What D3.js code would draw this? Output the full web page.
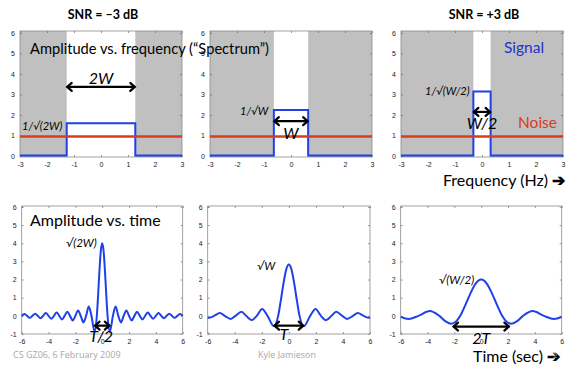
<!DOCTYPE html>
<html>
<head>
<meta charset="utf-8">
<script src="https://cdn.jsdelivr.net/npm/d3@7"></script>
<style>
  body { margin: 0; background: #fff; }
  svg { display: block; }
  .tick text { font-family: "Liberation Sans", Arial, sans-serif; font-size: 7px; fill: #222; }
</style>
</head>
<body>
<svg id="chart" width="569" height="365"></svg>
<script>
// ---- data ----
const freqTicks = [-3, -2, -1, 0, 1, 2, 3];
const freqYTicks = [0, 1, 2, 3, 4, 5, 6];
const timeTicks = [-6, -4, -2, 0, 2, 4, 6];
const timeYTicks = [-1, 0, 1, 2, 3, 4, 5, 6];

const snrTitles = ['SNR = \u20133 dB', '', 'SNR = +3 dB'];
const halfBand = [1.27, 0.635, 0.32];      // Hz, half of the signal band
const signalLevel = [1.6, 2.25, 3.15];     // spectrum height
const noiseLevel = 0.95;
const floorLevel = 0.02;

const bandLabels = ['1/\u221A(2W)', '1/\u221AW', '1/\u221A(W/2)'];
const widthLabels = ['2W', 'W', 'W/2'];
const peakLabels = ['\u221A(2W)', '\u221AW', '\u221A(W/2)'];
const durLabels = ['T/2', 'T', '2T'];

const pulse1T = [-6, -5.8, -5.6, -5.4, -5.2, -5.0, -4.8, -4.6, -4.4, -4.2, -4.0, -3.8, -3.6, -3.4, -3.2, -3.0, -2.8, -2.6, -2.4, -2.2, -2.0, -1.8, -1.6, -1.4, -1.2, -1.0, -0.8, -0.57, -0.4, -0.3, -0.2, -0.1, 0,
  0.1, 0.2, 0.3, 0.4, 0.57, 0.8, 1.0, 1.2, 1.4, 1.6, 1.8, 2.0, 2.2, 2.4, 2.6, 2.8, 3.0, 3.2, 3.4, 3.6, 3.8, 4.0, 4.2, 4.4, 4.6, 4.8, 5.0, 5.2, 5.4, 5.6, 5.8, 6];
const pulse1V = [0, 0.1, 0, -0.11, 0, 0.12, 0, -0.13, 0, 0.15, 0, -0.16, 0, 0.18, 0, -0.2, 0, 0.22, 0, -0.25, 0, 0.3, 0, -0.36, 0, 0.51, 0, -0.87, 0, 1.2, 2.55, 3.6, 4.0,
  3.6, 2.55, 1.2, 0, -0.87, 0, 0.51, 0, -0.36, 0, 0.3, 0, -0.25, 0, 0.22, 0, -0.2, 0, 0.18, 0, -0.16, 0, 0.15, 0, -0.13, 0, 0.12, 0, -0.11, 0, 0.1, 0];

const pulse2T = [-6, -5.93, -5.53, -5.1, -4.74, -4.3, -3.95, -3.5, -3.16, -2.74, -2.37, -1.97, -1.58, -1.1, -0.79, -0.6, -0.4, -0.2, 0,
  0.2, 0.4, 0.6, 0.79, 1.1, 1.58, 1.97, 2.37, 2.74, 3.16, 3.5, 3.95, 4.3, 4.74, 5.1, 5.53, 5.93, 6];
const pulse2V = [-0.1, -0.11, 0, 0.16, 0, -0.17, 0, 0.22, 0, -0.24, 0, 0.38, 0, -0.57, 0, 0.82, 1.77, 2.54, 2.83,
  2.54, 1.77, 0.82, 0, -0.57, 0, 0.38, 0, -0.24, 0, 0.22, 0, -0.17, 0, 0.16, 0, -0.11, -0.1];

const pulse3T = [-6, -5.41, -4.68, -3.84, -3.12, -2.65, -2.23, -1.9, -1.56, -1.2, -0.8, -0.4, 0,
  0.4, 0.8, 1.2, 1.56, 1.9, 2.23, 2.65, 3.12, 3.84, 4.68, 5.41, 6];
const pulse3V = [-0.06, -0.18, 0, 0.26, 0, -0.3, -0.43, -0.33, 0, 0.56, 1.24, 1.79, 2.0,
  1.79, 1.24, 0.56, 0, -0.33, -0.43, -0.3, 0, 0.26, 0, -0.18, -0.06];

const pulses = [[pulse1T, pulse1V], [pulse2T, pulse2V], [pulse3T, pulse3V]];
const durHalf = [0.57, 1.1, 2.1];          // time-span arrows
const durArrowY = [-0.54, -0.54, -0.59];

// ---- layout ----
const blue = '#1f42e8', red = '#dc3b1c', shade = '#c0c0c0';
const topX = [[20, 182], [210, 372], [401, 563]];
const botX = [[21.7, 182.7], [207.7, 370], [400.7, 561.7]];
const svg = d3.select('#chart');
const bigFont = 'Lato, "Open Sans", sans-serif';
const plain = d => String(d);

function arrow(g, x1, x2, y) {
  g.append('line').attr('x1', x1).attr('x2', x2).attr('y1', y).attr('y2', y)
    .attr('stroke', '#000').attr('stroke-width', 2.2);
  g.append('path').attr('d', `M${x1 + 5},${y - 4}L${x1 + 0.5},${y}L${x1 + 5},${y + 4}`)
    .attr('fill', 'none').attr('stroke', '#000').attr('stroke-width', 2.2).attr('stroke-linecap', 'round');
  g.append('path').attr('d', `M${x2 - 5},${y - 4}L${x2 - 0.5},${y}L${x2 - 5},${y + 4}`)
    .attr('fill', 'none').attr('stroke', '#000').attr('stroke-width', 2.2).attr('stroke-linecap', 'round');
}

function frame(g, x, y, xt, yt) {
  const [x0, x1] = x.range(), [y0, y1] = y.range();
  g.append('g').attr('transform', `translate(0,${y0})`)
    .call(d3.axisBottom(x).tickValues(xt).tickSize(-2).tickPadding(5).tickFormat(plain))
    .call(a => a.select('.domain').remove());
  g.append('g').attr('transform', `translate(${x0},0)`)
    .call(d3.axisLeft(y).tickValues(yt).tickSize(-2).tickPadding(5).tickFormat(plain))
    .call(a => a.select('.domain').remove());
  g.append('g').attr('transform', `translate(0,${y1})`)
    .call(d3.axisTop(x).tickValues(xt).tickSize(-2).tickFormat(''))
    .call(a => a.select('.domain').remove());
  g.append('g').attr('transform', `translate(${x1},0)`)
    .call(d3.axisRight(y).tickValues(yt).tickSize(-2).tickFormat(''))
    .call(a => a.select('.domain').remove());
  g.selectAll('.tick line').attr('stroke', '#555').attr('stroke-width', 0.6);
  g.append('rect').attr('x', x0).attr('y', y1).attr('width', x1 - x0).attr('height', y0 - y1)
    .attr('fill', 'none').attr('stroke', '#8a8a8a').attr('stroke-width', 0.8);
}

// ---- spectrum panels ----
topX.forEach((rx, i) => {
  const g = svg.append('g');
  const x = d3.scaleLinear().domain([-3, 3]).range(rx);
  const y = d3.scaleLinear().domain([-0.05, 6.1]).range([157, 31]);
  const hw = halfBand[i], h = signalLevel[i];

  g.append('rect').attr('x', x(-3)).attr('y', y(6.1)).attr('width', x(-hw) - x(-3))
    .attr('height', y(-0.05) - y(6.1)).attr('fill', shade);
  g.append('rect').attr('x', x(hw)).attr('y', y(6.1)).attr('width', x(3) - x(hw))
    .attr('height', y(-0.05) - y(6.1)).attr('fill', shade);

  frame(g, x, y, freqTicks, freqYTicks);

  const spec = [[-3, floorLevel], [-hw, floorLevel], [-hw, h], [hw, h], [hw, floorLevel], [3, floorLevel]];
  g.append('path').datum(spec)
    .attr('d', d3.line().x(d => x(d[0])).y(d => y(d[1])))
    .attr('fill', 'none').attr('stroke', blue).attr('stroke-width', 2);
  g.append('path').datum([[-3, noiseLevel], [3, noiseLevel]])
    .attr('d', d3.line().x(d => x(d[0])).y(d => y(d[1])))
    .attr('fill', 'none').attr('stroke', red).attr('stroke-width', 2.4);

  if (snrTitles[i]) {
    svg.append('text').attr('x', (rx[0] + rx[1]) / 2 + 2).attr('y', 19).attr('text-anchor', 'middle')
      .attr('font-family', bigFont).attr('font-weight', 'bold').attr('font-size', 12.5)
      .text(snrTitles[i]);
  }
});

// spectrum annotations
(function () {
  const y = d3.scaleLinear().domain([-0.05, 6.1]).range([157, 31]);
  const xs = topX.map(rx => d3.scaleLinear().domain([-3, 3]).range(rx));
  const arrowY = [3.37, 1.7, 2.15];
  const widthY = [84, 139, 129];
  const bandLab = [[22, 130], [240, 115], [425, 95]];
  xs.forEach((x, i) => {
    arrow(svg, x(-halfBand[i]), x(halfBand[i]), y(arrowY[i]));
    svg.append('text').attr('x', (x(-halfBand[i]) + x(halfBand[i])) / 2).attr('y', widthY[i])
      .attr('text-anchor', 'middle').attr('font-family', bigFont).attr('font-style', 'italic')
      .attr('font-size', 16).text(widthLabels[i]);
    svg.append('text').attr('x', bandLab[i][0]).attr('y', bandLab[i][1])
      .attr('font-family', bigFont).attr('font-style', 'italic').attr('font-size', 11)
      .text(bandLabels[i]);
  });
  svg.append('text').attr('x', 30).attr('y', 54).attr('font-family', bigFont).attr('font-size', 16)
    .attr('textLength', 239).attr('lengthAdjust', 'spacingAndGlyphs')
    .text('Amplitude vs. frequency (\u201CSpectrum\u201D)');
  svg.append('text').attr('x', 504).attr('y', 53).attr('font-family', bigFont).attr('font-size', 15.5)
    .attr('fill', '#2233cc').text('Signal');
  svg.append('text').attr('x', 518).attr('y', 128).attr('font-family', bigFont).attr('font-size', 15.5)
    .attr('fill', red).text('Noise');
  svg.append('text').attr('x', 443).attr('y', 186).attr('font-family', bigFont).attr('font-size', 16)
    .text('Frequency (Hz) ')
    .append('tspan').attr('font-weight', 'bold').text('\u2794');
})();

// ---- time panels ----
botX.forEach((rx, i) => {
  const g = svg.append('g');
  const x = d3.scaleLinear().domain([-6, 6]).range(rx);
  const y = d3.scaleLinear().domain([-1, 6.05]).range([334, 206]);
  frame(g, x, y, timeTicks, timeYTicks);

  const [ts, vs] = pulses[i];
  g.append('path').datum(ts.map((t, k) => [t, vs[k]]))
    .attr('d', d3.line().x(d => x(d[0])).y(d => y(d[1])).curve(d3.curveMonotoneX))
    .attr('fill', 'none').attr('stroke', blue).attr('stroke-width', 2);

  arrow(svg, x(-durHalf[i]), x(durHalf[i]), y(durArrowY[i]));
  svg.append('text').attr('x', x(0) + [-1, -5, 0][i]).attr('y', [342, 340, 344][i])
    .attr('text-anchor', 'middle').attr('font-family', bigFont).attr('font-style', 'italic')
    .attr('font-size', 16).text(durLabels[i]);
});

(function () {
  const peakLab = [[66, 247], [257, 270], [439, 284]];
  peakLab.forEach((p, i) => {
    svg.append('text').attr('x', p[0]).attr('y', p[1]).attr('font-family', bigFont)
      .attr('font-style', 'italic').attr('font-size', 11.5).text(peakLabels[i]);
  });
  svg.append('text').attr('x', 30).attr('y', 226).attr('font-family', bigFont).attr('font-size', 16)
    .text('Amplitude vs. time');
  svg.append('text').attr('x', 13).attr('y', 358).attr('font-family', '"Open Sans", sans-serif')
    .attr('font-size', 9).attr('fill', '#a8a8a8').text('CS GZ06, 6 February 2009');
  svg.append('text').attr('x', 287).attr('y', 358).attr('text-anchor', 'middle')
    .attr('font-family', '"Open Sans", sans-serif').attr('font-size', 9).attr('fill', '#a8a8a8')
    .text('Kyle Jamieson');
  svg.append('text').attr('x', 473).attr('y', 362).attr('font-family', bigFont).attr('font-size', 16)
    .text('Time (sec) ')
    .append('tspan').attr('font-weight', 'bold').text('\u2794');
  svg.append('text').attr('x', 553).attr('y', 358).attr('font-family', '"Open Sans", sans-serif')
    .attr('font-size', 8).attr('fill', '#a8a8a8').text('2');
})();
</script>
</body>
</html>
